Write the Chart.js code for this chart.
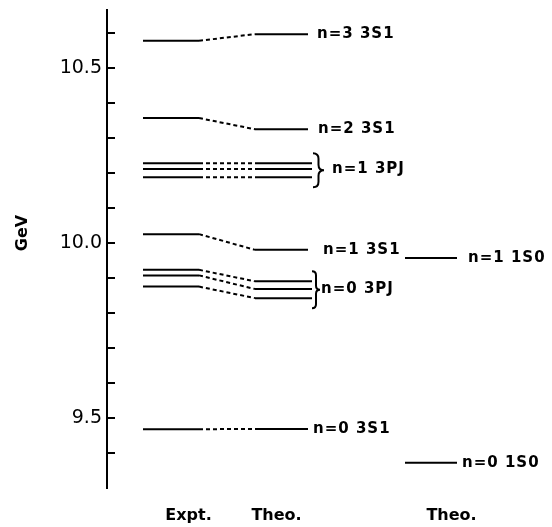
<!DOCTYPE html>
<html>
<head>
<meta charset="utf-8">
<script src="https://cdn.jsdelivr.net/npm/chart.js@4"></script>
<style>
	html, body { margin: 0; background: #fff; }
	canvas { display: block; }
</style>
</head>
<body>
<canvas id="levels" width="552" height="527"></canvas>
<script>
// level energies in GeV
const sLabels = ["n=3 3S1", "n=2 3S1", "n=1 3S1", "n=0 3S1"]
const sExpt = [10.579, 10.358, 10.026, 9.468]
const sTheo = [10.598, 10.326, 9.981, 9.469]
const pLabels = ["n=1 3PJ", "n=0 3PJ"]
const p1Expt = [10.229, 10.212, 10.189]
const p1Theo = [10.229, 10.212, 10.189]
const p0Expt = [9.924, 9.908, 9.876]
const p0Theo = [9.891, 9.869, 9.843]
const singletLabels = ["n=1 1S0", "n=0 1S0"]
const singletTheo = [9.958, 9.372]
const columnLabels = ["Expt.", "Theo.", "Theo."]
const yTicks = [9.4, 9.5, 9.6, 9.7, 9.8, 9.9, 10.0, 10.1, 10.2, 10.3, 10.4, 10.5, 10.6]
const yLabelled = [9.5, 10.0, 10.5]

// layout (x units = px right of the axis)
const EXPT = [36, 92], THEO_S = [148, 201], THEO_P = [148, 205], SINGLET = [298, 350]
const sLabelX = [210, 211, 216, 206]
const pBraceX = [206, 205], pBraceW = [11, 8], pLabelX = [225, 214]
const singletLabelX = [361, 355]
const columnX = [81.5, 169.5, 344.5]

const level = (xs, ys, dashed) => ({
	data: [{x: xs[0], y: ys[0]}, {x: xs[1], y: ys[1]}],
	borderColor: "#000",
	borderWidth: 2,
	borderDash: dashed ? [4, 3] : [],
	pointRadius: 0,
	fill: false
})

const datasets = []
const addPair = (e, t, theoX) => {
	datasets.push(level(EXPT, [e, e]))
	datasets.push(level([EXPT[1], theoX[0]], [e, t], true))
	datasets.push(level(theoX, [t, t]))
}
sExpt.forEach((e, i) => addPair(e, sTheo[i], THEO_S))
p1Expt.forEach((e, i) => addPair(e, p1Theo[i], THEO_P))
p0Expt.forEach((e, i) => addPair(e, p0Theo[i], THEO_P))
singletTheo.forEach(t => datasets.push(level(SINGLET, [t, t])))

const brace = (ctx, x0, top, bottom, w) => {
	const mid = (top + bottom) / 2, xm = x0 + w / 2, r = w / 2
	ctx.beginPath()
	ctx.moveTo(x0, top)
	ctx.quadraticCurveTo(xm, top, xm, top + r)
	ctx.lineTo(xm, mid - r)
	ctx.quadraticCurveTo(xm, mid, x0 + w, mid)
	ctx.quadraticCurveTo(xm, mid, xm, mid + r)
	ctx.lineTo(xm, bottom - r)
	ctx.quadraticCurveTo(xm, bottom, x0, bottom)
	ctx.stroke()
}

const annotate = {
	id: "annotate",
	afterDatasetsDraw(chart) {
		const {ctx, chartArea, scales: {x, y}} = chart
		ctx.save()
		ctx.strokeStyle = "#000"
		ctx.fillStyle = "#000"
		ctx.lineWidth = 2

		// ticks point inwards
		yTicks.forEach(v => {
			const py = Math.round(y.getPixelForValue(v))
			ctx.beginPath()
			ctx.moveTo(chartArea.left, py)
			ctx.lineTo(chartArea.left + 8, py)
			ctx.stroke()
		})

		ctx.font = "bold 15px 'DejaVu Sans'"
		ctx.letterSpacing = "1px"
		ctx.textAlign = "left"
		ctx.textBaseline = "middle"
		sLabels.forEach((l, i) => ctx.fillText(l, x.getPixelForValue(sLabelX[i]), y.getPixelForValue(sTheo[i])))
		singletLabels.forEach((l, i) => ctx.fillText(l, x.getPixelForValue(singletLabelX[i]), y.getPixelForValue(singletTheo[i])))

		;[p1Theo, p0Theo].forEach((set, i) => {
			const top = y.getPixelForValue(Math.max(...set)) - 10
			const bottom = y.getPixelForValue(Math.min(...set)) + 10
			brace(ctx, x.getPixelForValue(pBraceX[i]), top, bottom, pBraceW[i])
			ctx.fillText(pLabels[i], x.getPixelForValue(pLabelX[i]), (top + bottom) / 2 - 1)
		})

		ctx.letterSpacing = "0px"
		ctx.font = "bold 16px 'DejaVu Sans'"
		ctx.textAlign = "center"
		columnLabels.forEach((l, i) => ctx.fillText(l, x.getPixelForValue(columnX[i]), chartArea.bottom + 28))

		ctx.translate(23, 233)
		ctx.rotate(-Math.PI / 2)
		ctx.font = "bold 16px 'DejaVu Sans'"
		ctx.fillText("GeV", 0, 0)
		ctx.restore()
	}
}

new Chart(document.getElementById("levels"), {
	type: "line",
	data: {datasets},
	options: {
		responsive: false,
		animation: false,
		devicePixelRatio: 1,
		layout: {padding: {top: 10, bottom: 39, left: 0, right: 12}},
		plugins: {legend: {display: false}, tooltip: {enabled: false}},
		scales: {
			x: {type: "linear", display: false, min: 0, max: 433},
			y: {
				type: "linear",
				position: "left",
				min: 9.3,
				max: 10.667,
				afterFit: scale => {
					scale.width = 107
					scale.paddingTop = 0
					scale.paddingBottom = 0
				},
				afterBuildTicks: scale => { scale.ticks = yTicks.map(v => ({value: v})) },
				ticks: {
					padding: 5,
					color: "#000",
					font: {family: "DejaVu Sans", size: 19},
					callback: v => yLabelled.includes(+v.toFixed(1)) ? v.toFixed(1) : ""
				},
				grid: {drawOnChartArea: false, drawTicks: false},
				border: {display: true, color: "#000", width: 2}
			}
		}
	},
	plugins: [annotate]
})
</script>
</body>
</html>
